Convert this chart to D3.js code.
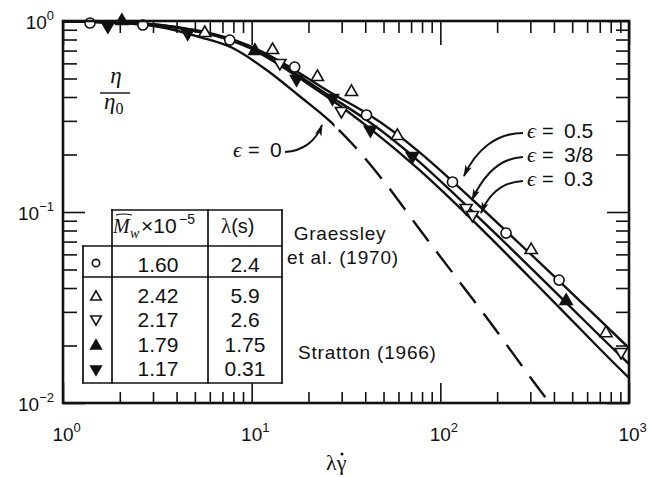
<!DOCTYPE html>
<html><head><meta charset="utf-8">
<script src="https://cdn.jsdelivr.net/npm/d3@7"></script>
<style>
body{margin:0;background:#fff;}
svg{display:block;}
text{font-family:"Liberation Sans",Arial,Helvetica,sans-serif;fill:#111;}
</style></head><body>
<svg id="chart" width="649" height="477"></svg>
<script>
// ---------------- data ----------------
const xMajor = [1, 10, 100, 1000];
const xExp = ["0", "1", "2", "3"];
const yMajor = [1, 0.1, 0.01];
const yExp = ["0", "\u22121", "\u22122"];

// theory curves (lambda*gamma-dot, eta/eta0)
const curveX  = [1, 2.0, 3.26, 5.31, 9.76, 17.9, 27.5, 42.1, 77.4, 161, 334, 693, 1000];
const eps05Y  = [0.996, 0.982, 0.953, 0.886, 0.740, 0.534, 0.410, 0.322, 0.206, 0.1075, 0.0547, 0.0275, 0.0194];
const eps38Y  = [0.996, 0.982, 0.953, 0.881, 0.731, 0.515, 0.390, 0.296, 0.183, 0.0930, 0.0462, 0.0227, 0.0160];
const eps03Y  = [0.996, 0.982, 0.947, 0.876, 0.722, 0.503, 0.377, 0.275, 0.166, 0.0835, 0.0405, 0.0194, 0.01352];
const eps0X = [1, 2.0, 3.26, 5.31, 7.93, 12.0, 17.9, 25.9, 34.2, 50.5, 77.4, 175, 387, 420];
const eps0Y = [0.995, 0.975, 0.93, 0.824, 0.722, 0.554, 0.405, 0.2996, 0.227, 0.1436, 0.0815, 0.0282, 0.00976, 0.0088];
const eps0DashFrom = 27.5;   // solid below, dashed above

// experimental points
const circX = [1.39, 2.65, 7.65, 16.9, 40.6, 116, 223, 426];
const circY = [0.976, 0.953, 0.795, 0.574, 0.322, 0.1436, 0.0776, 0.0440];
const triUpX = [5.64, 12.9, 22.3, 33.8, 59.2, 303, 755];
const triUpY = [0.865, 0.705, 0.509, 0.425, 0.25, 0.0632, 0.0232];
const triDnX = [14.1, 29.9, 137, 148, 908];
const triDnY = [0.603, 0.338, 0.105, 0.0965, 0.0185];
const filUpX = [2.05, 10.4, 464];
const filUpY = [1.0, 0.697, 0.0342];
const filDnX = [1.73, 4.58, 17.3, 26.8, 42.6, 71.1];
const filDnY = [0.942, 0.865, 0.497, 0.395, 0.269, 0.196];

// legend table
const tableSym = ["circle", "triUp", "triDn", "filUp", "filDn"];
const tableMw = ["1.60", "2.42", "2.17", "1.79", "1.17"];
const tableLam = ["2.4", "5.9", "2.6", "1.75", "0.31"];

// ---------------- drawing ----------------
const svg = d3.select("#chart");
const P = {left: 63, right: 629, top: 21, bottom: 403};
const x = d3.scaleLog().domain([1, 1000]).range([P.left, P.right]);
const y = d3.scaleLog().domain([0.01, 1]).range([P.bottom, P.top]);
const INK = "#111";

svg.append("rect").attr("width", 649).attr("height", 477).attr("fill", "#fff");
const defs = svg.append("defs");
defs.append("clipPath").attr("id", "clip").append("rect")
  .attr("x", P.left).attr("y", P.top).attr("width", P.right - P.left).attr("height", P.bottom - P.top);
const xs = x(eps0DashFrom);
defs.append("clipPath").attr("id", "clipSolid").append("rect")
  .attr("x", P.left - 5).attr("y", P.top).attr("width", xs - P.left + 5).attr("height", P.bottom - P.top);
defs.append("clipPath").attr("id", "clipDash").append("rect")
  .attr("x", xs).attr("y", P.top).attr("width", P.right - xs).attr("height", P.bottom - P.top);
defs.append("marker").attr("id", "ah").attr("viewBox", "0 0 12 8").attr("refX", 11).attr("refY", 4)
  .attr("markerWidth", 12).attr("markerHeight", 8).attr("markerUnits", "userSpaceOnUse").attr("orient", "auto")
  .append("path").attr("d", "M0,0.5 L12,4 L0,7.5 L3,4 Z").attr("fill", INK);

// ticks
const xMinor = [], yMinor = [];
[1, 10, 100].forEach(d => { for (let k = 2; k <= 9; k++) xMinor.push(d * k); });
[0.01, 0.1].forEach(d => { for (let k = 2; k <= 9; k++) yMinor.push(d * k); });
function tickGroup(axis, tr) {
  const g = svg.append("g").attr("transform", tr).call(axis);
  g.select(".domain").remove();
  g.selectAll("text").remove();
  g.selectAll("line").attr("stroke", INK).attr("stroke-width", 1.6);
}
tickGroup(d3.axisBottom(x).tickValues(xMinor).tickSize(-11).tickFormat(""), `translate(0,${P.bottom})`);
tickGroup(d3.axisBottom(x).tickValues(xMajor).tickSize(-20).tickFormat(""), `translate(0,${P.bottom})`);
tickGroup(d3.axisTop(x).tickValues(xMinor).tickSize(-12).tickFormat(""), `translate(0,${P.top})`);
tickGroup(d3.axisTop(x).tickValues(xMajor).tickSize(-24).tickFormat(""), `translate(0,${P.top})`);
tickGroup(d3.axisLeft(y).tickValues(yMinor).tickSize(-14).tickFormat(""), `translate(${P.left},0)`);
tickGroup(d3.axisLeft(y).tickValues(yMajor).tickSize(-22).tickFormat(""), `translate(${P.left},0)`);
tickGroup(d3.axisRight(y).tickValues(yMinor).tickSize(-13).tickFormat(""), `translate(${P.right},0)`);
tickGroup(d3.axisRight(y).tickValues(yMajor).tickSize(-22).tickFormat(""), `translate(${P.right},0)`);

// tick labels
const xl = svg.append("g").selectAll("text").data(xMajor).join("text")
  .attr("x", d => x(d) - 10.6).attr("y", 441).attr("font-size", 19);
xl.append("tspan").text("10");
xl.append("tspan").attr("font-size", 13).attr("dy", -9).text((d, i) => xExp[i]);
const yl = svg.append("g").selectAll("text").data(yMajor).join("text")
  .attr("x", 54).attr("y", d => y(d) + 8).attr("font-size", 19).attr("text-anchor", "end");
yl.append("tspan").text("10");
yl.append("tspan").attr("font-size", 13).attr("dy", -9).text((d, i) => yExp[i]);

// curves
const plotG = svg.append("g").attr("clip-path", "url(#clip)");
const line = d3.line().x(d => x(d[0])).y(d => y(d[1])).curve(d3.curveNatural);
const line0 = d3.line().x(d => x(d[0])).y(d => y(d[1])).curve(d3.curveMonotoneX);
[eps05Y, eps38Y, eps03Y].forEach(ys => {
  plotG.append("path").attr("d", line(curveX.map((v, i) => [v, ys[i]])))
    .attr("fill", "none").attr("stroke", INK).attr("stroke-width", 2.4);
});
const eps0Path = line0(eps0X.map((v, i) => [v, eps0Y[i]]));
plotG.append("g").attr("clip-path", "url(#clipSolid)").append("path").attr("d", eps0Path)
  .attr("fill", "none").attr("stroke", INK).attr("stroke-width", 2.4);
const dashP = plotG.append("g").attr("clip-path", "url(#clipDash)").append("path").attr("d", eps0Path)
  .attr("fill", "none").attr("stroke", INK).attr("stroke-width", 2.4);
{
  const node = dashP.node();
  let lo = 0, hi = node.getTotalLength();
  for (let k = 0; k < 40; k++) {
    const mid = (lo + hi) / 2;
    if (node.getPointAtLength(mid).x < xs) lo = mid; else hi = mid;
  }
  const period = 39, L = lo;
  const off = ((33 - L) % period + period) % period;
  dashP.attr("stroke-dasharray", "26 13").attr("stroke-dashoffset", off);
}

// markers
const symCircle = d3.symbol().type(d3.symbolCircle).size(80)();
const symTri = d3.symbol().type(d3.symbolTriangle).size(64)();
function drawPts(xv, yv, path, rot, filled) {
  svg.append("g").selectAll("path").data(xv).join("path")
    .attr("d", path)
    .attr("transform", (d, i) => `translate(${x(d)},${y(yv[i])}) rotate(${rot})`)
    .attr("fill", filled ? INK : "#fff").attr("stroke", INK).attr("stroke-width", 1.6);
}
drawPts(circX, circY, symCircle, 0, false);
drawPts(triUpX, triUpY, symTri, 0, false);
drawPts(triDnX, triDnY, symTri, 180, false);
drawPts(filUpX, filUpY, symTri, 0, true);
drawPts(filDnX, filDnY, symTri, 180, true);

// frame
svg.append("rect").attr("x", P.left).attr("y", P.top).attr("width", P.right - P.left)
  .attr("height", P.bottom - P.top).attr("fill", "none").attr("stroke", INK).attr("stroke-width", 2.6);

// axis titles
const yt = svg.append("g");
yt.append("text").attr("x", 116).attr("y", 83).attr("text-anchor", "middle").attr("font-size", 23)
  .attr("font-style", "italic").style("font-family", "Liberation Serif,serif").text("\u03b7");
yt.append("line").attr("x1", 100).attr("x2", 130).attr("y1", 93).attr("y2", 93).attr("stroke", INK).attr("stroke-width", 1.4);
const eta0 = yt.append("text").attr("x", 104).attr("y", 109).attr("font-size", 23).style("font-family", "Liberation Serif,serif");
eta0.append("tspan").attr("font-style", "italic").text("\u03b7");
eta0.append("tspan").attr("font-size", 16).attr("dy", 5).text("0");

const xt = svg.append("text").attr("x", 326).attr("y", 470).attr("font-size", 22)
  .style("font-family", "Liberation Serif,serif").text("\u03bb\u03b3");
{
  const ext = xt.node().getExtentOfChar(1);
  svg.append("circle").attr("cx", ext.x + ext.width / 2 + 0.5).attr("cy", ext.y + 4).attr("r", 1.5).attr("fill", INK);
}

// epsilon labels and arrows
function epsLabel(ex, base, val) {
  const g = svg.append("g");
  g.append("text").attr("x", ex).attr("y", base).attr("font-size", 22).attr("font-style", "italic")
    .style("font-family", "Liberation Serif,serif").text("\u03f5");
  g.append("text").attr("x", ex + 15).attr("y", base).attr("font-size", 20).text("=");
  g.append("text").attr("x", ex + 37).attr("y", base).attr("font-size", 21).text(val);
}
epsLabel(233, 157, "0");
epsLabel(527, 138, "0.5");
epsLabel(527, 162, "3/8");
epsLabel(527, 186, "0.3");
const arrows = [
  "M285,152 C303,151 316,141 322,125",
  "M523,133 C496,133 476,150 464,176",
  "M523,157 C499,158 483,176 472,200",
  "M523,181 C501,182 488,196 481,213"
];
svg.append("g").selectAll("path").data(arrows).join("path").attr("d", d => d)
  .attr("fill", "none").attr("stroke", INK).attr("stroke-width", 2).attr("marker-end", "url(#ah)");

// legend table
const T = svg.append("g");
T.append("rect").attr("x", 112).attr("y", 210).attr("width", 170).attr("height", 173).attr("fill", "#fff");
T.append("rect").attr("x", 83).attr("y", 246).attr("width", 29).attr("height", 137).attr("fill", "#fff");
const tl = [[112,210,282,210],[83,246,282,246],[83,277,282,277],[83,383,282,383],
            [83,246,83,383],[112,210,112,383],[208,210,208,383],[282,210,282,383]];
T.selectAll("line").data(tl).join("line")
  .attr("x1", d => d[0]).attr("y1", d => d[1]).attr("x2", d => d[2]).attr("y2", d => d[3])
  .attr("stroke", INK).attr("stroke-width", 1.7).attr("stroke-linecap", "square");
// header
T.append("text").attr("x", 113).attr("y", 233).attr("font-size", 20).attr("font-style", "italic")
  .style("font-family", "Liberation Serif,serif").text("M");
T.append("path").attr("d", "M116,215 Q123,213 132,215").attr("fill", "none").attr("stroke", INK).attr("stroke-width", 1.2);
T.append("text").attr("x", 130).attr("y", 238).attr("font-size", 14).attr("font-style", "italic")
  .style("font-family", "Liberation Serif,serif").text("w");
T.append("text").attr("x", 141).attr("y", 233).attr("font-size", 21).text("\u00d710");
T.append("text").attr("x", 179).attr("y", 224).attr("font-size", 14).text("\u22125");
const lh = T.append("text").attr("x", 221).attr("y", 233).attr("font-size", 20);
lh.append("tspan").style("font-family", "Liberation Serif,serif").attr("font-size", 21).text("\u03bb");
lh.append("tspan").text("(s)");

const rowBase = [272, 303, 327, 352, 376];
const rowSym = [263, 297, 319, 346, 369];
T.append("g").selectAll("text").data(tableMw).join("text")
  .attr("x", 158).attr("y", (d, i) => rowBase[i]).attr("text-anchor", "middle").attr("font-size", 21).text(d => d);
T.append("g").selectAll("text").data(tableLam).join("text")
  .attr("x", 245).attr("y", (d, i) => rowBase[i]).attr("text-anchor", "middle").attr("font-size", 21).text(d => d);
const smallCirc = d3.symbol().type(d3.symbolCircle).size(42)();
const smallTri = d3.symbol().type(d3.symbolTriangle).size(48)();
T.append("g").selectAll("path").data(tableSym).join("path")
  .attr("d", d => d === "circle" ? smallCirc : smallTri)
  .attr("transform", (d, i) => `translate(96,${rowSym[i]}) rotate(${d === "triDn" || d === "filDn" ? 180 : 0})`)
  .attr("fill", d => d.startsWith("fil") ? INK : "#fff").attr("stroke", INK).attr("stroke-width", 1.6);

// source labels
const src = svg.append("g").attr("font-size", 19).style("letter-spacing", "0.8px");
src.append("text").attr("x", 340).attr("y", 240).attr("text-anchor", "middle").text("Graessley");
src.append("text").attr("x", 343).attr("y", 264).attr("text-anchor", "middle").text("et al. (1970)");
src.append("text").attr("x", 298).attr("y", 359).text("Stratton (1966)");
</script>
</body></html>
